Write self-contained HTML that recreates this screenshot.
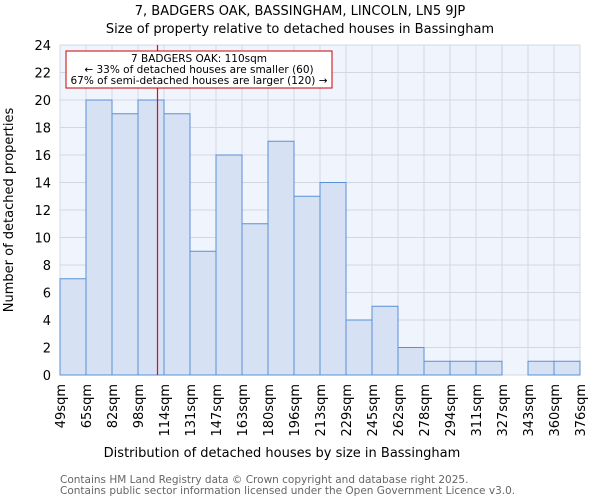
<!DOCTYPE html>
<html><head><meta charset="utf-8"><style>
body{margin:0;background:#fff;font-family:"DejaVu Sans","Liberation Sans",sans-serif;}
svg text{font-family:"DejaVu Sans","Liberation Sans",sans-serif;}
</style></head><body>
<svg id="chart" width="600" height="500" xmlns="http://www.w3.org/2000/svg">
<text x="300" y="15" text-anchor="middle" font-size="13">7, BADGERS OAK, BASSINGHAM, LINCOLN, LN5 9JP</text>
<text x="300" y="33" text-anchor="middle" font-size="13">Size of property relative to detached houses in Bassingham</text>
<rect x="60" y="45" width="520" height="330" fill="#f0f4fc"/>
<g id="grid"></g><g id="bars"></g><g id="yticks"></g><g id="xticks"></g>
<line id="marker" y1="45" y2="375" style="stroke:#ff0000;stroke-width:1.2"/>
<rect x="66" y="51" width="266" height="37" fill="#fff" style="stroke:#cc0000;stroke-width:1"/>
<text x="199" y="62" text-anchor="middle" font-size="10.5">7 BADGERS OAK: 110sqm</text>
<text x="199" y="73" text-anchor="middle" font-size="10.5">← 33% of detached houses are smaller (60)</text>
<text x="199" y="84" text-anchor="middle" font-size="10.5">67% of semi-detached houses are larger (120) →</text>
<text x="282" y="457" text-anchor="middle" font-size="13">Distribution of detached houses by size in Bassingham</text>
<text transform="translate(13,210) rotate(-90)" text-anchor="middle" font-size="13">Number of detached properties</text>
<text x="60" y="483" font-size="10.5" fill="#666">Contains HM Land Registry data © Crown copyright and database right 2025.</text>
<text x="60" y="494" font-size="10.5" fill="#666">Contains public sector information licensed under the Open Government Licence v3.0.</text>
</svg>
<script>
const binLabels=["49sqm","65sqm","82sqm","98sqm","114sqm","131sqm","147sqm","163sqm","180sqm","196sqm","213sqm","229sqm","245sqm","262sqm","278sqm","294sqm","311sqm","327sqm","343sqm","360sqm","376sqm"];
const binStarts=[49,65,82,98,114,131,147,163,180,196,213,229,245,262,278,294,311,327,343,360,376];
const counts=[7,20,19,20,19,9,16,11,17,13,14,4,5,2,1,1,1,0,1,1];
const yTicks=[0,2,4,6,8,10,12,14,16,18,20,22,24];
const markerValue=110;
const X0=60,W=520,Y0=375,H=330,YMAX=24;
const NS="http://www.w3.org/2000/svg";
const n=counts.length,bw=W/n;
function xi(i){return X0+i*bw;}
function y(v){return Y0-v/YMAX*H;}
function xv(v){for(let i=0;i<n;i++){if(v>=binStarts[i]&&v<=binStarts[i+1])return xi(i)+bw*(v-binStarts[i])/(binStarts[i+1]-binStarts[i]);}return X0;}
function mk(t,a){const e=document.createElementNS(NS,t);for(const k in a)e.setAttribute(k,a[k]);return e;}
const grid=document.getElementById('grid'),bars=document.getElementById('bars'),yt=document.getElementById('yticks'),xt=document.getElementById('xticks');
yTicks.forEach(v=>{
 const l=mk('line',{x1:X0,x2:X0+W,y1:y(v),y2:y(v),stroke:'#d3d8e0','stroke-width':1});
 
 
 grid.appendChild(l);
 const t=mk('text',{x:X0-9,y:y(v)+5,'text-anchor':'end','font-size':13});
 t.textContent=v;
 
 
 yt.appendChild(t);
});
binLabels.forEach((s,i)=>{
 const x=xi(i);
 const l=mk('line',{x1:x,x2:x,y1:Y0-H,y2:Y0,stroke:'#d3d8e0','stroke-width':1});
 
 
 grid.appendChild(l);
 const t=mk('text',{transform:`translate(${x+5},${Y0+9}) rotate(-90)`,'text-anchor':'end','font-size':13});
 t.textContent=s;
 
 
 xt.appendChild(t);
});
counts.forEach((c,i)=>{
 if(c<=0)return;
 const r=mk('rect',{x:xi(i),y:y(c),width:bw,height:Y0-y(c),fill:'#d6e1f3',stroke:'#5b8fd8','stroke-width':1});
 
 
 bars.appendChild(r);
});
const m=document.getElementById('marker');
const mx=Math.floor(xv(markerValue))+0.5;
m.setAttribute('x1',mx);m.setAttribute('x2',mx);
</script>
</body></html>
